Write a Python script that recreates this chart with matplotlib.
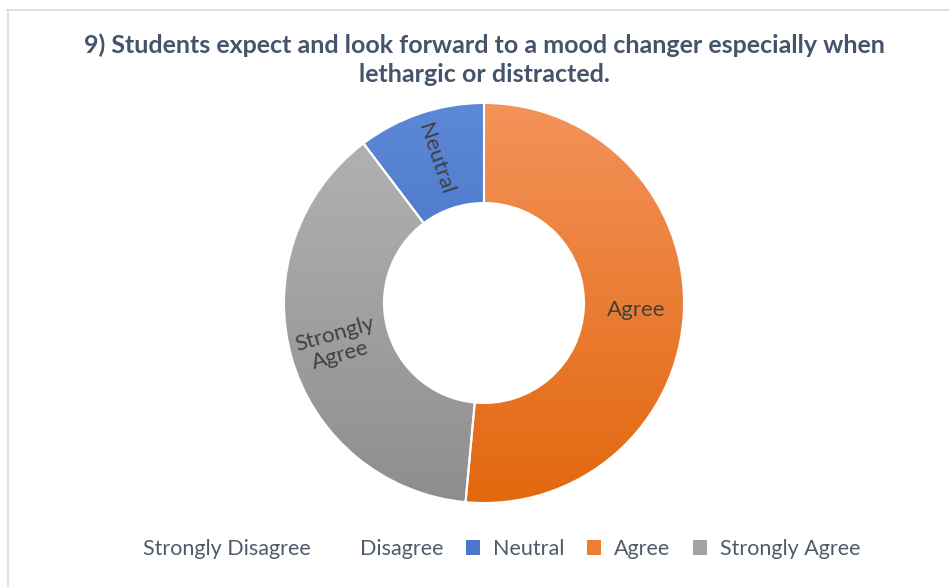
import numpy as np
import matplotlib.pyplot as plt
from matplotlib.colors import to_rgb
from matplotlib.patches import Patch
from matplotlib.lines import Line2D

plt.rcParams['font.family'] = ['Lato', 'DejaVu Sans']

# survey answers (counts), legend order
categories = ['Strongly Disagree', 'Disagree', 'Neutral', 'Agree', 'Strongly Agree']
counts = [0, 0, 7, 35, 26]
# gradient colours per answer (top, bottom); the empty answers have no swatch
top_colors = [None, None, '#5C88D6', '#F3925A', '#B5B5B5']
bot_colors = [None, None, '#3A63BC', '#E2680E', '#8E8E8E']
title = '9) Students expect and look forward to a mood changer especially when\nlethargic or distracted.'

fig = plt.figure(figsize=(9.49, 5.87), dpi=100)
fig.patch.set_facecolor('white')

# faint frame of the chart area (top and left edges)
fig.add_artist(Line2D([7 / 949, 1], [1 - 9.5 / 587] * 2, color='#D5DBE3', lw=1.2))
fig.add_artist(Line2D([7.5 / 949] * 2, [0, 1 - 9.5 / 587], color='#D5DBE3', lw=1.2))

ax = fig.add_axes([284 / 949, 84 / 587, 400 / 949, 400 / 587])
ax.axis('off')

# only non-empty slices, starting from the Neutral edge, clockwise
idx = [i for i, c in enumerate(counts) if c > 0]
vals = [counts[i] for i in idx]
start = 90 + 360 * vals[0] / sum(vals)
wedges, _ = ax.pie(vals, radius=1, startangle=start, counterclock=False,
                   wedgeprops=dict(width=0.5, linewidth=0, facecolor='none'))

for w, i in zip(wedges, idx):
    c0 = np.array(to_rgb(top_colors[i]))
    c1 = np.array(to_rgb(bot_colors[i]))
    t = np.linspace(0, 1, 256)[:, None, None]
    grad = c0 * (1 - t) + c1 * t
    im = ax.imshow(grad, extent=(-1, 1, -1, 1), origin='upper', aspect='auto',
                   interpolation='bilinear', zorder=1)
    im.set_clip_path(w)

# thin white separators
ax.pie(vals, radius=1, startangle=start, counterclock=False,
       wedgeprops=dict(width=0.5, linewidth=1.5, edgecolor='white', facecolor='none'))
for p in ax.patches[len(wedges):]:
    p.set_zorder(2)

# radial data labels
label_text = {'Strongly Agree': 'Strongly\nAgree'}
for w, i in zip(wedges, idx):
    mid = np.deg2rad((w.theta1 + w.theta2) / 2)
    r = 0.76
    rot = np.rad2deg(mid)
    while rot > 90:
        rot -= 180
    while rot < -90:
        rot += 180
    if categories[i] == 'Agree':
        rot = 0
    ax.text(r * np.cos(mid), r * np.sin(mid), label_text.get(categories[i], categories[i]),
            ha='center', va='center', rotation=rot, rotation_mode='anchor',
            fontsize=16, color='#404040', linespacing=1.1, zorder=3)

ax.set_xlim(-1, 1)
ax.set_ylim(-1, 1)
ax.set_aspect('equal')

fig.text(484 / 949, 1 - 59.5 / 587, title, ha='center', va='center', fontsize=18,
         fontweight='bold', color='#44546A', linespacing=1.3)

handles = []
for i, cat in enumerate(categories):
    if top_colors[i] is None:
        handles.append(Patch(facecolor='none', edgecolor='none'))
    else:
        mid_col = (np.array(to_rgb(top_colors[i])) + np.array(to_rgb(bot_colors[i]))) / 2
        handles.append(Patch(facecolor=mid_col, edgecolor='none'))
fig.legend(handles, categories, loc='center', bbox_to_anchor=(488 / 949, 1 - 549 / 587),
           ncol=5, frameon=False, fontsize=15.5, labelcolor='#4F5B6B',
           handlelength=0.65, handleheight=0.65, handletextpad=0.6, columnspacing=1.05)

fig.savefig('out.png', dpi=100)
